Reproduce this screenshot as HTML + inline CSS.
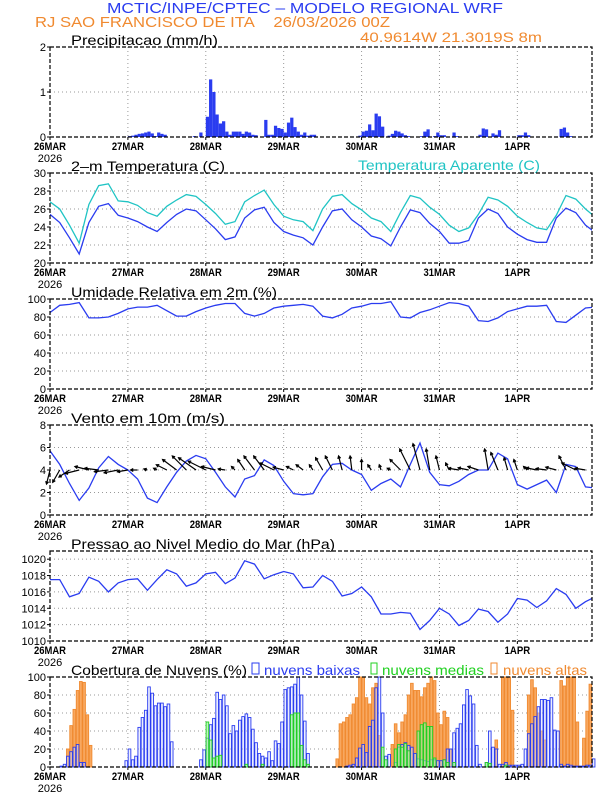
<!DOCTYPE html>
<html><head><meta charset="utf-8"><style>
html,body{margin:0;padding:0;background:#fff;}
svg{display:block;}
text{font-family:"Liberation Sans",sans-serif;}
</style></head><body>
<svg id="chart" width="612" height="792" viewBox="0 0 612 792" xmlns="http://www.w3.org/2000/svg">
<text x="305" y="13" text-anchor="middle" font-size="15" fill="#2a3cf0" textLength="396" lengthAdjust="spacingAndGlyphs">MCTIC/INPE/CPTEC – MODELO REGIONAL WRF</text>
<text x="35" y="27" font-size="15" fill="#f08a30" textLength="355" lengthAdjust="spacingAndGlyphs">RJ SAO FRANCISCO DE ITA&#160;&#160;&#160;&#160;26/03/2026 00Z</text>
<text x="360" y="42" font-size="14" fill="#f08a30" textLength="182" lengthAdjust="spacingAndGlyphs">40.9614W 21.3019S 8m</text>
<text x="71" y="45" font-size="14" fill="#000" textLength="147" lengthAdjust="spacingAndGlyphs">Precipitacao (mm/h)</text>
<text x="71" y="171" font-size="14" fill="#000" textLength="154" lengthAdjust="spacingAndGlyphs">2–m Temperatura (C)</text>
<text x="358" y="170" font-size="14" fill="#20c4c4" textLength="182" lengthAdjust="spacingAndGlyphs">Temperatura Aparente (C)</text>
<text x="71" y="297" font-size="14" fill="#000" textLength="206" lengthAdjust="spacingAndGlyphs">Umidade Relativa em 2m (%)</text>
<text x="71" y="423" font-size="14" fill="#000" textLength="154" lengthAdjust="spacingAndGlyphs">Vento em 10m (m/s)</text>
<text x="71" y="549" font-size="14" fill="#000" textLength="264" lengthAdjust="spacingAndGlyphs">Pressao ao Nivel Medio do Mar (hPa)</text>
<text x="71" y="675" font-size="14" fill="#000" textLength="176" lengthAdjust="spacingAndGlyphs">Cobertura de Nuvens (%)</text>
<rect x="252" y="663" width="7" height="11" fill="none" stroke="#2a3cf0"/>
<text x="264" y="675" font-size="14" fill="#2a3cf0" textLength="96" lengthAdjust="spacingAndGlyphs">nuvens baixas</text>
<rect x="371" y="663" width="6" height="11" fill="none" stroke="#20d020"/>
<text x="382" y="675" font-size="14" fill="#20d020" textLength="102" lengthAdjust="spacingAndGlyphs">nuvens medias</text>
<rect x="491" y="663" width="6" height="11" fill="none" stroke="#f08a30"/>
<text x="503" y="675" font-size="14" fill="#f08a30" textLength="84" lengthAdjust="spacingAndGlyphs">nuvens altas</text>
</svg>
<script>
// ---- data ----
const dayLabels = ["26MAR","27MAR","28MAR","29MAR","30MAR","31MAR","1APR"];
const precipHours = [24,25,26,27,28,29,30,31,32,33,34,35,44,46,48,49,50,51,52,53,54,55,56,57,58,59,60,61,62,63,66,67,68,69,70,71,72,73,74,75,76,77,78,79,80,81,95,96,97,98,99,100,101,102,104,105,106,107,108,109,110,114,115,116,118,119,120,121,124,125,132,133,134,136,137,138,144,145,146,147,157,158,159,160];
const precipValues = [0.02,0.03,0.05,0.07,0.08,0.1,0.12,0.08,0.02,0.1,0.07,0.05,0.02,0.1,0.45,1.28,1.0,0.5,0.3,0.35,0.12,0.05,0.12,0.12,0.12,0.07,0.12,0.1,0.05,0.04,0.38,0.05,0.05,0.25,0.2,0.18,0.1,0.32,0.43,0.22,0.12,0.05,0.1,0.03,0.05,0.05,0.03,0.12,0.14,0.28,0.15,0.52,0.46,0.23,0.03,0.07,0.14,0.12,0.08,0.04,0.02,0.02,0.12,0.17,0.02,0.1,0.04,0.04,0.1,0.02,0.05,0.19,0.17,0.08,0.05,0.15,0.04,0.04,0.1,0.04,0.18,0.21,0.1,0.02];
const temp2m = [25.4,24.5,22.8,21.0,24.5,26.3,26.6,25.3,25.0,24.6,24.0,23.5,24.5,25.4,26.0,25.8,24.8,23.8,22.6,22.9,25.0,25.9,26.2,24.5,23.5,23.1,22.8,22.0,24.0,25.8,26.0,24.8,24.0,23.0,22.7,21.9,24.0,25.9,25.6,24.4,23.5,22.2,22.2,22.5,25.0,26.0,25.5,24.0,23.2,22.6,22.3,22.3,25.0,26.1,25.6,24.2,23.4];
const tempApparent = [26.8,26.0,24.2,22.2,26.5,28.6,28.8,26.9,26.8,26.4,25.6,25.2,26.3,27.0,27.6,27.4,26.5,25.5,24.3,24.6,26.8,27.5,28.1,26.5,25.2,24.8,24.6,23.6,26.0,27.4,27.6,26.6,25.9,25.0,24.6,23.5,25.6,27.5,27.2,26.2,25.4,24.2,23.5,23.9,25.4,27.3,27.0,26.3,25.2,24.5,23.9,23.7,25.3,27.5,27.1,26.0,25.1];
const humidity = [85,93,94,96,79,79,80,84,89,91,91,93,87,81,81,86,90,93,95,95,84,81,84,90,92,93,94,92,81,79,83,90,92,95,95,97,80,79,85,88,92,96,95,92,76,75,79,86,89,92,92,93,75,74,82,90,91];
const windSpeed = [5.7,4.5,2.8,1.3,2.4,4.2,5.2,4.5,4.0,3.2,1.5,1.1,2.5,3.8,4.8,5.3,5.0,3.8,2.5,1.6,3.2,3.5,4.9,4.4,3.0,1.9,1.8,1.9,3.4,4.5,4.6,4.0,3.6,2.2,2.8,3.2,2.5,4.5,6.4,3.8,2.7,2.6,3.0,3.6,4.0,4.0,5.5,5.0,2.7,2.3,2.7,3.1,2.0,4.5,4.3,2.5,2.4];
const windU = [-1,-2,-3,-4,-4,-4,-4,-4,-3,-2,-1,-1,-3,-4,-4,-5,-5,-4,-2,-1,-2,-3,-3,-4,-3,-2,-2,-1,-2,-2,-1,-0.5,0,-1,-0.5,-1,-3,-3,-2,-1,-1,-1,-3,-3,-3,-1,-2,-1,-1,-1,-3,-3,-3,-2,-4,-3];
const windV = [-4,-3.5,-2,-1,1,0.5,-0.5,-0.8,-0.5,0,0.3,0.5,1.5,3,4,3.5,2.5,1,0.3,1,3,4,4,2,0.8,1,1.5,1.5,3.5,4,4,4,3,1.5,1.5,0.5,3,6,7.5,6,4,2,0.5,0.6,1,6,5,3.5,3,1,0.6,0.4,0.8,4,2,0.5];
const pressure = [1017.5,1017.5,1015.4,1015.8,1017.8,1017.3,1016.0,1017.1,1017.5,1017.6,1016.2,1017.5,1018.7,1018.2,1016.7,1017.1,1018.2,1018.4,1017.0,1017.7,1019.8,1019.4,1017.6,1018.1,1018.5,1018.2,1016.5,1016.6,1018.0,1017.3,1015.5,1015.8,1016.6,1015.4,1013.3,1013.3,1013.5,1013.4,1011.4,1012.5,1014.0,1013.3,1011.9,1012.5,1013.9,1013.6,1012.3,1013.3,1015.2,1015.0,1014.1,1014.9,1016.4,1015.7,1014.0,1014.8,1015.4];
const lowClouds = [0,0,0,1,3,12,17,22,25,5, 5,0,0,0,0,0,0,0,0,0, 0,0,0,7,20,8,12,44,55,63, 89,82,68,71,71,67,70,28,0,0, 0,0,0,0,0,0,8,19,32,47, 54,83,75,80,68,37,46,40,52,56, 59,55,42,27,15,12,10,17,7,29, 26,50,86,88,89,92,100,80,51,15, 0,0,0,0,0,0,0,0,0,0, 0,1,2,3,10,21,25,16,45,52, 88,100,60,12,14,0,5,22,25,27, 24,22,15,9,8,7,6,8,8,7, 7,8,20,20,38,43,48,69,86,79, 70,24,3,0,5,40,22,20,3,3, 5,2,2,2,2,3,20,37,48,56, 67,75,75,74,77,41,40,3,1,3, 2,1,1,1,1,2,2,9];
const highHours = [5,6,7,8,9,10,11,12,88,89,90,91,92,93,94,95,96,97,98,99,100,101,105,106,107,108,109,110,111,112,113,114,115,116,117,118,119,120,121,122,123,137,139,140,141,142,147,148,149,150,151,152,157,158,159,160,161,162,164,165,166];
const highValues = [20,46,64,85,95,94,58,24,9,48,50,55,58,70,77,100,100,77,70,88,93,35,25,48,38,50,58,80,93,85,85,78,88,93,100,96,60,47,62,55,20,30,100,100,100,63,80,97,88,60,40,30,96,90,100,100,100,50,32,62,92];
const midHours = [48,49,50,51,52,60,65,74,75,76,77,78,79,102,103,106,107,108,109,110,113,114,115,116,117,118,121,122,124,134,135,140];
const midValues = [50,30,10,12,13,3,3,58,60,60,24,8,3,22,8,20,25,22,26,18,40,47,49,45,45,10,8,5,5,5,4,2];
const precipTicks = [0,1,2];
const tempTicks = [20,22,24,26,28,30];
const rhTicks = [0,20,40,60,80,100];
const windTicks = [0,2,4,6,8];
const presTicks = [1010,1012,1014,1016,1018,1020];
const cloudTicks = [0,20,40,60,80,100];

// ---- drawing ----
const svg = document.getElementById('chart');
const NS = 'http://www.w3.org/2000/svg';
const X0 = 50, X1 = 592, HMAX = 167, PH = 90;
const xs = h => X0 + h * (X1 - X0) / HMAX;
function mk(tag, attrs, parent) {
  const e = document.createElementNS(NS, tag);
  for (const k in attrs) e.setAttribute(k, attrs[k]);
  (parent || svg).appendChild(e);
  return e;
}
function panel(name, top, lo, hi, ticks) {
  const g = mk('g', {});
  
  
  const ys = v => top + PH - (v - lo) / (hi - lo) * PH;
  ticks.forEach(t => {
    if (t === lo || t === hi) return;
    const l = mk('line', {x1: X0, x2: X1, y1: ys(t), y2: ys(t), stroke: '#999', 'stroke-dasharray': '1,3', 'stroke-width': 1}, g);
    
    
  });
  for (let d = 1; d < 7; d++) {
    const x = xs(d * 24);
    const l = mk('line', {x1: x, x2: x, y1: top, y2: top + PH, stroke: '#999', 'stroke-dasharray': '1,3', 'stroke-width': 1}, g);
    
    
  }
  ticks.forEach(t => {
    mk('line', {x1: X0 - 3, x2: X0, y1: ys(t), y2: ys(t), stroke: '#000'}, g);
    const tx = mk('text', {x: X0 - 4, y: ys(t) + 4, 'text-anchor': 'end', 'font-size': 11}, g);
    tx.textContent = t;
    
    
  });
  dayLabels.forEach((lab, d) => {
    const x = xs(d * 24);
    mk('line', {x1: x, x2: x, y1: top + PH, y2: top + PH + 3, stroke: '#000'}, g);
    const tx = mk('text', {x: x, y: top + PH + 13, 'text-anchor': 'middle', 'font-size': 11, 'font-weight': 'bold', textLength: lab.length * 6.4, lengthAdjust: 'spacingAndGlyphs'}, g);
    tx.textContent = lab;
    
    
  });
  const yr = mk('text', {x: X0, y: top + PH + 25, 'text-anchor': 'middle', 'font-size': 11}, g);
  yr.textContent = '2026';
  
  
  return {g, ys, top};
}
function frame(p) {
  const r = mk('rect', {x: X0, y: p.top, width: X1 - X0, height: PH, fill: 'none', stroke: '#000', 'stroke-width': 1.2, 'stroke-dasharray': '4,2'}, p.g);
  
  
}
function line(p, vals, color, name) {
  const pts = vals.map((v, i) => xs(i * 3).toFixed(1) + ',' + p.ys(v).toFixed(1)).join(' ');
  const pl = mk('polyline', {points: pts, fill: 'none', stroke: color, 'stroke-width': 1.3, 'clip-path': 'url(#clip' + p.top + ')'}, p.g);
  
  
}
const defs = mk('defs', {});
[47,173,299,425,551,677].forEach(t => {
  const c = mk('clipPath', {id: 'clip' + t}, defs);
  mk('rect', {x: X0, y: t, width: X1 - X0, height: PH}, c);
});
const BW = (X1 - X0) / HMAX;

const p1 = panel('precip', 47, 0, 2, precipTicks);
precipHours.forEach((h, i) => {
  const y = p1.ys(precipValues[i]);
  const r = mk('rect', {x: xs(h), y: y, width: BW, height: p1.ys(0) - y, fill: '#2a3cf0'}, p1.g);
  
  
});
frame(p1);

const p2 = panel('temp', 173, 20, 30, tempTicks);
line(p2, tempApparent, '#20c4c4', 'apparent-temp-line');
line(p2, temp2m, '#2a3cf0', 'temp-line');
frame(p2);

const p3 = panel('humidity', 299, 0, 100, rhTicks);
line(p3, humidity, '#2a3cf0', 'humidity-line');
frame(p3);

const p4 = panel('wind', 425, 0, 8, windTicks);
line(p4, windSpeed, '#2a3cf0', 'wind-speed-line');
const K = 3.5;
windU.forEach((u, i) => {
  const bx = xs(i * 3), by = p4.ys(4);
  const tx = bx + u * K, ty = by - windV[i] * K;
  const g = mk('g', {stroke: '#000', 'stroke-width': 1.2, fill: 'none'}, p4.g);
  
  
  mk('line', {x1: bx, y1: by, x2: tx, y2: ty}, g);
  const ang = Math.atan2(ty - by, tx - bx), a = 3;
  mk('polyline', {points: (tx - a * Math.cos(ang - 0.5)) + ',' + (ty - a * Math.sin(ang - 0.5)) + ' ' + tx + ',' + ty + ' ' + (tx - a * Math.cos(ang + 0.5)) + ',' + (ty - a * Math.sin(ang + 0.5))}, g);
});
frame(p4);

const p5 = panel('pressure', 551, 1010, 1021, presTicks);
line(p5, pressure, '#2a3cf0', 'pressure-line');
frame(p5);

const p6 = panel('cloud', 677, 0, 100, cloudTicks);
function cbar(h, v, fill, stroke, name) {
  const y = p6.ys(v);
  const r = mk('rect', {x: xs(h) + 0.3, y: y, width: BW - 0.6, height: p6.ys(0) - y, fill: fill, stroke: stroke, 'stroke-width': 0.9}, p6.g);
  
  
}
highHours.forEach((h, i) => cbar(h, highValues[i], '#f8a860', '#f08a30', 'high-cloud-bar'));
lowClouds.forEach((v, h) => { if (v > 0) cbar(h, v, 'rgba(210,218,255,0.45)', '#2a3cf0', 'low-cloud-bar'); });
midHours.forEach((h, i) => cbar(h, midValues[i], 'rgba(150,240,150,0.6)', '#20d020', 'mid-cloud-bar'));
frame(p6);
</script>
</body></html>
